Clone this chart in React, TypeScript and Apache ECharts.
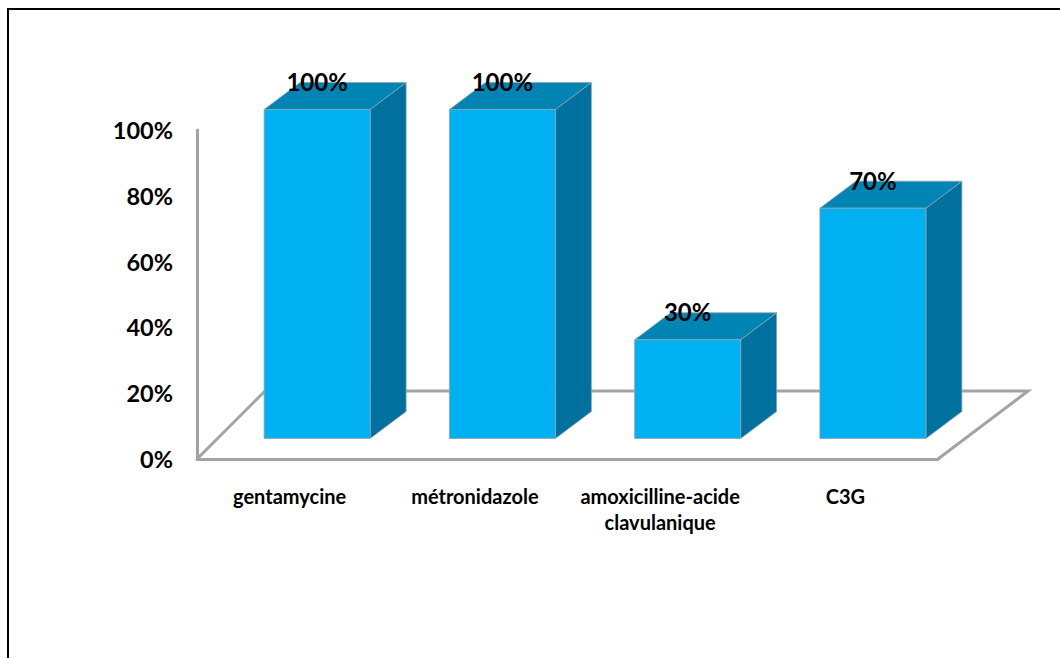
import React, { useEffect, useRef } from "react";
import * as echarts from "echarts";

const categories = ["gentamycine", "métronidazole", "amoxicilline-acide\nclavulanique", "C3G"];
const percentages = [100, 100, 30, 70];
const axisTicks = [0, 20, 40, 60, 80, 100];

const FONT = "Lato, Carlito, sans-serif";
const GRID = { left: 197, top: 130, width: 741, height: 329 };
const FLOOR_DX = 90; // depth of the floor, horizontally
const FLOOR_DY = 68; // depth of the floor, vertically
const BAR_WIDTH = 106;
const BAR_SHIFT_X = 27.5; // bars stand partway into the floor
const BAR_SHIFT_Y = -20.5;
const DEPTH_X = 36;
const DEPTH_Y = -27;

const WALL = "#a3a3a3";
const FRONT = "#00b0f0";
const TOP = "#0084b4";
const SIDE = "#00709e";
const EDGE = "rgba(140,165,175,0.8)";

function renderBar(_params: any, api: any) {
  const cat = api.value(0);
  const [cx, yTop] = api.coord([cat, api.value(1)]);
  const [, yBase] = api.coord([cat, 0]);
  const x0 = cx - BAR_WIDTH / 2 + BAR_SHIFT_X;
  const x1 = x0 + BAR_WIDTH;
  const t = yTop + BAR_SHIFT_Y;
  const b = yBase + BAR_SHIFT_Y;
  const face = (points: number[][], fill: string) => ({
    type: "polygon",
    shape: { points },
    style: { fill, stroke: EDGE, lineWidth: 1 },
  });
  return {
    type: "group",
    children: [
      face(
        [[x1, t], [x1 + DEPTH_X, t + DEPTH_Y], [x1 + DEPTH_X, b + DEPTH_Y], [x1, b]],
        SIDE
      ),
      face(
        [[x0, t], [x0 + DEPTH_X, t + DEPTH_Y], [x1 + DEPTH_X, t + DEPTH_Y], [x1, t]],
        TOP
      ),
      face([[x0, t], [x1, t], [x1, b], [x0, b]], FRONT),
    ],
  };
}

function renderLabel(_params: any, api: any) {
  const cat = api.value(0);
  const val = api.value(1);
  const [cx, yTop] = api.coord([cat, val]);
  return {
    type: "text",
    x: cx + BAR_SHIFT_X,
    y: yTop + BAR_SHIFT_Y + DEPTH_Y - 1,
    style: {
      text: `${val}%`,
      fill: "#000",
      font: `bold 24px ${FONT}`,
      align: "center",
      verticalAlign: "middle",
    },
  };
}

export default function App() {
  const ref = useRef<HTMLDivElement>(null);

  useEffect(() => {
    document.body.style.margin = "0";
    const chart = echarts.init(ref.current!, undefined, { renderer: "svg" });
    const { left, top, width, height } = GRID;
    const bottom = top + height;
    const barData = categories.map((_, i) => [i, percentages[i]]);

    chart.setOption({
      animation: false,
      backgroundColor: "#fff",
      grid: { left, top, width, height, containLabel: false },
      xAxis: {
        type: "category",
        data: categories,
        axisLine: { show: true, lineStyle: { color: WALL, width: 3 } },
        axisTick: { show: false },
        axisLabel: {
          color: "#000",
          fontFamily: FONT,
          fontWeight: "bold",
          fontSize: 20,
          lineHeight: 26,
          margin: 24,
          interval: 0,
        },
      },
      yAxis: {
        type: "value",
        min: axisTicks[0],
        max: axisTicks[axisTicks.length - 1],
        interval: 20,
        splitLine: { show: false },
        axisTick: { show: false },
        axisLine: { show: true, lineStyle: { color: WALL, width: 3 } },
        axisLabel: {
          formatter: "{value}%",
          color: "#000",
          fontFamily: FONT,
          fontWeight: "bold",
          fontSize: 23.5,
          margin: 24,
        },
      },
      graphic: [
        {
          type: "rect",
          silent: true,
          z: 100,
          shape: { x: 8, y: 9, width: 1100, height: 700 },
          style: { fill: "none", stroke: "#000", lineWidth: 2 },
        },
        {
          type: "polyline",
          silent: true,
          z: 0,
          shape: {
            points: [
              [left, bottom],
              [left + FLOOR_DX - 22, bottom - FLOOR_DY],
              [left + width + FLOOR_DX, bottom - FLOOR_DY],
              [left + width, bottom],
            ],
          },
          style: { fill: "none", stroke: WALL, lineWidth: 3 },
        },
      ],
      series: [
        {
          type: "custom",
          coordinateSystem: "cartesian2d",
          renderItem: renderBar,
          data: barData,
          z: 5,
        },
        {
          type: "custom",
          coordinateSystem: "cartesian2d",
          renderItem: renderLabel,
          data: barData,
          z: 6,
        },
      ],
    });
    return () => chart.dispose();
  }, []);

  return <div ref={ref} style={{ width: 1060, height: 658 }} />;
}
